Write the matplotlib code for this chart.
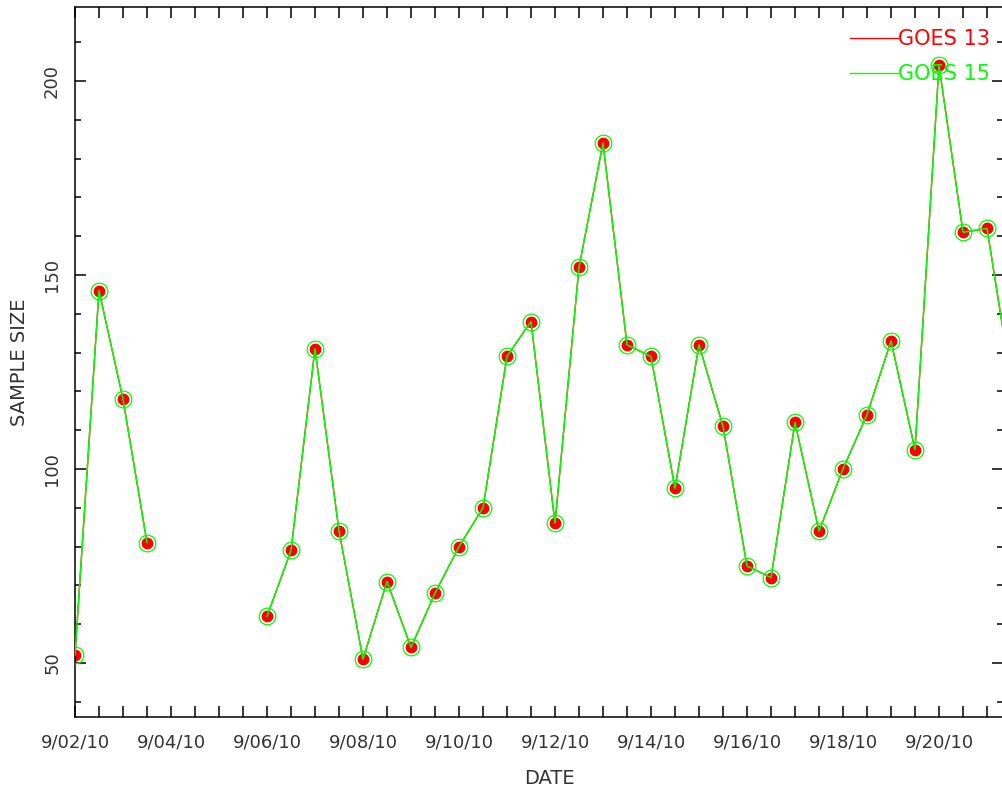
import numpy as np
import pandas as pd
import matplotlib
matplotlib.use("Agg")
import matplotlib.pyplot as plt
import matplotlib.dates as mdates
from matplotlib.lines import Line2D
from matplotlib.ticker import FuncFormatter, MultipleLocator

# samples every 12 hours starting 9/02/10 00:00
start = "2010-09-02 00:00"
n_samples = 40
sample_size = [52, 146, 118, 81, np.nan, np.nan, np.nan, np.nan,
               62, 79, 131, 84, 51, 71, 54, 68, 80, 90, 129, 138,
               86, 152, 184, 132, 129, 95, 132, 111, 75, 72,
               112, 84, 100, 114, 133, 105, 204, 161, 162, 123]
series_names = ["GOES 13", "GOES 15"]
series_colors = ["#ff0000", "#00ff00"]

dates = pd.date_range(start, periods=n_samples, freq="12h")
goes13 = np.array(sample_size, dtype=float)
goes15 = np.array(sample_size, dtype=float)

fig = plt.figure(figsize=(10.02, 7.93), dpi=100)
ax = fig.add_axes([75 / 1002, 1 - 717 / 793, 928 / 1002, 710 / 793])

# GOES 13: red filled dots, GOES 15: green line with open circles on top
ax.plot(dates, goes13, color=series_colors[0], lw=1.0, marker="o",
        ms=7.5, mfc=series_colors[0], mec=series_colors[0], zorder=2)
ax.plot(dates, goes15, color=series_colors[1], lw=1.1, zorder=3)
ax.plot(dates, goes15, ls="none", marker="o", ms=12, mfc="none",
        mec=series_colors[1], mew=0.9, zorder=3)

t0 = pd.Timestamp(start)
ax.set_xlim(mdates.date2num(t0), mdates.date2num(t0) + 928 / 48)
ax.set_ylim(36.08, 219.07)

ax.xaxis.set_major_locator(mdates.DayLocator(interval=2))
ax.xaxis.set_minor_locator(mdates.HourLocator(byhour=[0, 12]))
ax.xaxis.set_major_formatter(FuncFormatter(
    lambda v, p: (lambda d: f"{d.month}/{d.day:02d}/{d.year % 100:02d}")(mdates.num2date(v))))
ax.yaxis.set_major_locator(MultipleLocator(50))
ax.yaxis.set_minor_locator(MultipleLocator(10))

tc = "#333333"
ax.tick_params(axis="both", which="both", direction="in", top=True, right=True,
               color="black", width=1.1, labelcolor=tc, labelsize=13)
ax.tick_params(axis="x", which="both", length=8, pad=12)
ax.tick_params(axis="y", which="major", length=8, pad=10)
ax.tick_params(axis="y", which="minor", length=4)
for lab in ax.get_yticklabels():
    lab.set_rotation(90)
    lab.set_va("center")
for s in ax.spines.values():
    s.set_linewidth(1.1)
    s.set_color("black")

ax.set_xlabel("DATE", fontsize=14, color=tc)
ax.xaxis.set_label_coords(0.511, -0.073)
ax.set_ylabel("SAMPLE SIZE", fontsize=14, color=tc, labelpad=10)

handles = [Line2D([], [], color=c, lw=1.0) for c in series_colors]
leg = ax.legend(handles, series_names, loc="upper right",
                bbox_to_anchor=(1.006, 0.995), frameon=False, fontsize=15,
                handlelength=2.3, handletextpad=0.0, labelspacing=0.7,
                labelcolor="linecolor")

fig.savefig("out.png", dpi=100)
